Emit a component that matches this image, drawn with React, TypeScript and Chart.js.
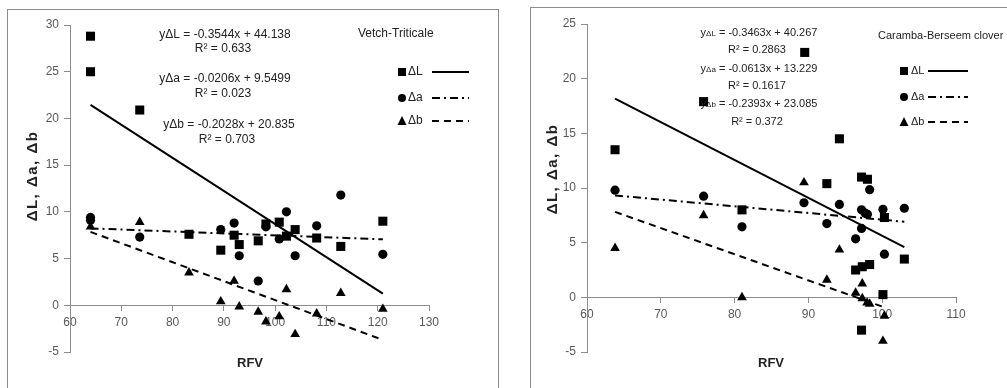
import React, { useEffect, useRef } from "react";
import { Chart, registerables } from "chart.js";
Chart.register(...registerables);

// ---------- Vetch-Triticale (left) ----------
const vtLx = [64, 64, 73.6, 83.2, 89.4, 92.0, 93.0, 96.7, 98.2, 100.8, 102.2, 103.9, 108.1, 112.8, 121.0];
const vtL = [28.8, 25.0, 20.9, 7.6, 5.9, 7.5, 6.5, 6.9, 8.7, 8.9, 7.4, 8.1, 7.2, 6.3, 9.0];
const vtAx = [64, 64, 73.6, 89.4, 92.0, 93.0, 96.7, 98.2, 100.8, 102.2, 103.9, 108.1, 112.8, 121.0];
const vtA = [9.4, 9.1, 7.3, 8.1, 8.8, 5.3, 2.6, 8.4, 7.1, 10.0, 5.3, 8.5, 11.8, 5.45];
const vtBx = [64, 73.6, 83.2, 89.4, 92.0, 93.0, 96.7, 98.2, 100.8, 102.2, 103.9, 108.1, 112.8, 121.0];
const vtB = [8.4, 8.9, 3.5, 0.4, 2.6, -0.15, -0.7, -1.75, -1.2, 1.7, -3.1, -0.9, 1.3, -0.4];
const vtSlopes = [-0.3544, -0.0206, -0.2028];
const vtIntercepts = [44.138, 9.5499, 20.835];
const vtEqSlopeText = ["-0.3544x + 44.138", "-0.0206x + 9.5499", "-0.2028x + 20.835"];
const vtR2 = ["0.633", "0.023", "0.703"];
const vtTitle = "Vetch-Triticale";

// ---------- Caramba-Berseem clover (right) ----------
const cbLx = [63.8, 75.8, 81.0, 89.5, 92.5, 94.2, 96.4, 97.2, 97.2, 97.3, 98.0, 98.3, 100.1, 100.3, 103.0];
const cbL = [13.5, 17.9, 8.0, 22.4, 10.4, 14.5, 2.5, 11.0, -3.0, 2.8, 10.8, 3.0, 0.25, 7.3, 3.5];
const cbAx = [63.8, 75.8, 81.0, 89.4, 92.5, 94.2, 96.4, 97.2, 97.2, 97.7, 98.0, 98.3, 100.1, 100.3, 103.0];
const cbA = [9.8, 9.25, 6.45, 8.65, 6.75, 8.5, 5.35, 8.0, 6.3, 7.7, 7.6, 9.85, 8.05, 3.95, 8.15];
const cbBx = [63.8, 75.8, 81.0, 89.4, 92.5, 94.2, 96.4, 97.3, 97.3, 97.95, 98.3, 100.1, 100.3];
const cbB = [4.5, 7.5, 0.0, 10.5, 1.6, 4.35, 0.4, 1.25, -0.1, -0.5, -0.6, -4.0, -1.7];
const cbSlopes = [-0.3463, -0.0613, -0.2393];
const cbIntercepts = [40.267, 13.229, 23.085];
const cbEqSlopeText = ["-0.3463x + 40.267", "-0.0613x + 13.229", "-0.2393x + 23.085"];
const cbR2 = ["0.2863", "0.1617", "0.372"];
const cbTitle = "Caramba-Berseem clover";

const seriesNames = ["ΔL", "Δa", "Δb"];
const xTitle = "RFV";
const yTitle = "ΔL, Δa, Δb";

const FONT = "'Liberation Sans', Arial, sans-serif";
const AXIS = "#8c8c8c";
const TICK = "#595959";
const DASHES: number[][] = [[], [8, 4, 2, 4], [7, 5]];
const STYLES = ["rect", "circle", "triangle"];
const RADII = [6.4, 4.6, 5.6];

type Spec = {
  xs: number[][];
  ys: number[][];
  slopes: number[];
  intercepts: number[];
  eqText: string[];
  r2: string[];
  title: string;
  xMin: number;
  xMax: number;
  yMin: number;
  yMax: number;
  canvasLeft: number;
  canvasTop: number;
  width: number;
  height: number;
  padTop: number;
  padRight: number;
  padBottom: number;
  yAxisWidth: number;
  eqFont: number;
  subSmall: boolean;
  eqCx: number[];
  eqY: number[];
  r2Y: number[];
  titleX: number;
  titleY: number;
  titleFont: number;
  legMarkX: number;
  legTextX: number;
  legLine: [number, number];
  legY: number[];
  xTitleX: number;
  xTitleY: number;
  yTitleX: number;
  yTitleY: number;
};

function drawMarker(ctx: CanvasRenderingContext2D, style: string, x: number, y: number, s: number) {
  ctx.fillStyle = "#000";
  ctx.beginPath();
  if (style === "rect") ctx.rect(x - s / 2, y - s / 2, s, s);
  else if (style === "circle") ctx.arc(x, y, s / 2, 0, Math.PI * 2);
  else {
    ctx.moveTo(x, y - s / 2 - 1);
    ctx.lineTo(x + s / 2 + 0.5, y + s / 2);
    ctx.lineTo(x - s / 2 - 0.5, y + s / 2);
    ctx.closePath();
  }
  ctx.fill();
}

function annotate(chart: Chart, sp: Spec) {
  const ctx = chart.ctx;
  const ox = sp.canvasLeft;
  const oy = sp.canvasTop;
  ctx.save();
  ctx.textBaseline = "middle";
  ctx.fillStyle = "#222";
  const f = (px: number, bold = false) => `${bold ? "bold " : ""}${px}px ${FONT}`;
  // equations
  for (let i = 0; i < 3; i++) {
    const parts: [string, string][] = [
      ["y", f(sp.eqFont)],
      [seriesNames[i], sp.subSmall ? f(sp.eqFont - 3) : f(sp.eqFont)],
      [" = " + sp.eqText[i], f(sp.eqFont)],
    ];
    let total = 0;
    const ws = parts.map(([t, fo]) => {
      ctx.font = fo;
      const w = ctx.measureText(t).width;
      total += w;
      return w;
    });
    let x = sp.eqCx[i] - ox - total / 2;
    ctx.textAlign = "left";
    parts.forEach(([t, fo], k) => {
      ctx.font = fo;
      ctx.fillText(t, x, sp.eqY[i] - oy + (sp.subSmall && k === 1 ? 1 : 0));
      x += ws[k];
    });
    ctx.font = f(sp.eqFont);
    ctx.textAlign = "center";
    ctx.fillText("R² = " + sp.r2[i], sp.eqCx[i] - ox - 2, sp.r2Y[i] - oy);
  }
  // title
  ctx.font = f(sp.titleFont);
  ctx.textAlign = "left";
  ctx.fillText(sp.title, sp.titleX - ox, sp.titleY - oy);
  // legend
  for (let i = 0; i < 3; i++) {
    const y = sp.legY[i] - oy;
    drawMarker(ctx, STYLES[i], sp.legMarkX - ox, y, 8);
    ctx.fillStyle = "#222";
    ctx.font = f(sp.titleFont);
    ctx.textAlign = "left";
    ctx.fillText(seriesNames[i], sp.legTextX - ox, y);
    ctx.strokeStyle = "#000";
    ctx.lineWidth = 2;
    ctx.setLineDash(DASHES[i]);
    ctx.beginPath();
    ctx.moveTo(sp.legLine[0] - ox, y);
    ctx.lineTo(sp.legLine[1] - ox, y);
    ctx.stroke();
    ctx.setLineDash([]);
  }
  // axis titles
  ctx.fillStyle = "#222";
  ctx.font = f(13, true);
  ctx.textAlign = "center";
  ctx.fillText(xTitle, sp.xTitleX - ox, sp.xTitleY - oy);
  ctx.save();
  ctx.translate(sp.yTitleX - ox, sp.yTitleY - oy);
  ctx.rotate(-Math.PI / 2);
  ctx.font = f(15, true);
  (ctx as any).letterSpacing = "1.5px";
  ctx.fillText(yTitle, 0, 0);
  (ctx as any).letterSpacing = "0px";
  ctx.restore();
  ctx.restore();
}

function buildConfig(sp: Spec): any {
  const datasets: any[] = [];
  for (let i = 0; i < 3; i++) {
    datasets.push({
      label: seriesNames[i],
      data: sp.xs[i].map((x, k) => ({ x, y: sp.ys[i][k] })),
      pointStyle: STYLES[i],
      pointRadius: RADII[i],
      pointBackgroundColor: "#000",
      pointBorderColor: "#000",
      pointBorderWidth: 0,
      showLine: false,
    });
  }
  for (let i = 0; i < 3; i++) {
    const x0 = Math.min(...sp.xs[i]);
    const x1 = Math.max(...sp.xs[i]);
    datasets.push({
      label: seriesNames[i] + " trend",
      data: [
        { x: x0, y: sp.slopes[i] * x0 + sp.intercepts[i] },
        { x: x1, y: sp.slopes[i] * x1 + sp.intercepts[i] },
      ],
      showLine: true,
      pointRadius: 0,
      borderColor: "#000",
      borderWidth: 2,
      borderDash: DASHES[i],
      fill: false,
    });
  }
  return {
    type: "scatter",
    data: { datasets },
    options: {
      animation: false,
      responsive: false,
      maintainAspectRatio: false,
      devicePixelRatio: 1,
      layout: { padding: { left: 0, top: sp.padTop, right: sp.padRight, bottom: sp.padBottom } },
      plugins: { legend: { display: false }, tooltip: { enabled: false }, title: { display: false } },
      scales: {
        x: {
          type: "linear",
          position: { y: 0 },
          min: sp.xMin,
          max: sp.xMax,
          ticks: { stepSize: 10, color: TICK, font: { family: FONT, size: 12 }, padding: 5 },
          grid: { drawOnChartArea: false, drawTicks: true, tickLength: 5, color: AXIS },
          border: { display: true, color: AXIS, width: 1 },
        },
        y: {
          type: "linear",
          position: "left",
          min: sp.yMin,
          max: sp.yMax,
          afterFit: (s: any) => {
            s.width = sp.yAxisWidth;
          },
          ticks: { stepSize: 5, color: TICK, font: { family: FONT, size: 12 }, padding: 5 },
          grid: { drawOnChartArea: false, drawTicks: true, tickLength: 6, color: AXIS },
          border: { display: true, color: AXIS, width: 1 },
        },
      },
    },
    plugins: [{ id: "annot", afterDraw: (c: Chart) => annotate(c, sp) }],
  };
}

const leftSpec: Spec = {
  xs: [vtLx, vtAx, vtBx],
  ys: [vtL, vtA, vtB],
  slopes: vtSlopes,
  intercepts: vtIntercepts,
  eqText: vtEqSlopeText,
  r2: vtR2,
  title: vtTitle,
  xMin: 60, xMax: 130, yMin: -5, yMax: 30,
  canvasLeft: 8, canvasTop: 10, width: 489, height: 378,
  padTop: 15, padRight: 68, padBottom: 36, yAxisWidth: 62,
  eqFont: 12, subSmall: false,
  eqCx: [225, 225, 229], eqY: [35, 79, 125], r2Y: [49, 94, 140],
  titleX: 358, titleY: 34, titleFont: 12,
  legMarkX: 402, legTextX: 408, legLine: [432, 469], legY: [72, 98, 121],
  xTitleX: 250, xTitleY: 363, yTitleX: 33, yTitleY: 176,
};

const rightSpec: Spec = {
  xs: [cbLx, cbAx, cbBx],
  ys: [cbL, cbA, cbB],
  slopes: cbSlopes,
  intercepts: cbIntercepts,
  eqText: cbEqSlopeText,
  r2: cbR2,
  title: cbTitle,
  xMin: 60, xMax: 110, yMin: -5, yMax: 25,
  canvasLeft: 531, canvasTop: 8, width: 476, height: 380,
  padTop: 16, padRight: 51, padBottom: 36, yAxisWidth: 56,
  eqFont: 11, subSmall: true,
  eqCx: [759, 759, 759], eqY: [33, 69, 104], r2Y: [50, 86, 122],
  titleX: 878, titleY: 36, titleFont: 11,
  legMarkX: 904, legTextX: 911, legLine: [928, 968], legY: [71, 97, 122],
  xTitleX: 771, xTitleY: 363, yTitleX: 553, yTitleY: 169,
};

function ChartCanvas({ spec }: { spec: Spec }) {
  const ref = useRef<HTMLCanvasElement | null>(null);
  useEffect(() => {
    if (!ref.current) return;
    const chart = new Chart(ref.current, buildConfig(spec));
    return () => chart.destroy();
  }, [spec]);
  return (
    <canvas
      ref={ref}
      width={spec.width}
      height={spec.height}
      style={{ position: "absolute", left: spec.canvasLeft, top: spec.canvasTop, width: spec.width, height: spec.height }}
    />
  );
}

export default function App() {
  return (
    <div style={{ position: "absolute", left: 0, top: 0, width: 1007, height: 388, overflow: "hidden", background: "#fff" }}>
      <div style={{ position: "absolute", left: 7, top: 9, width: 492, height: 420, border: `1px solid ${AXIS}`, boxSizing: "border-box" }} />
      <div style={{ position: "absolute", left: 530, top: 7, width: 500, height: 420, border: `1px solid ${AXIS}`, boxSizing: "border-box" }} />
      <ChartCanvas spec={leftSpec} />
      <ChartCanvas spec={rightSpec} />
    </div>
  );
}
